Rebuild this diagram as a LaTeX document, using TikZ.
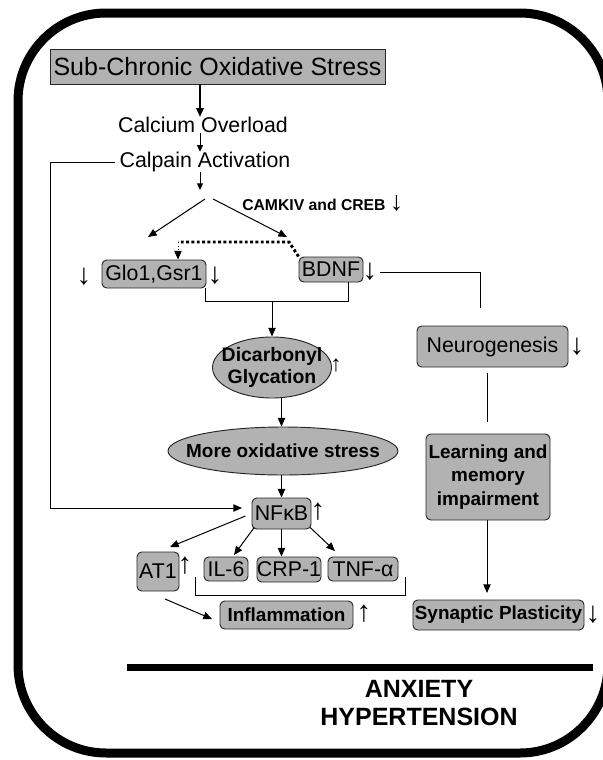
\documentclass[tikz,border=0pt]{standalone}
\usepackage{fontspec}
\setmainfont{Liberation Sans}
\usetikzlibrary{arrows.meta,shapes.geometric}
\begin{document}
\begin{tikzpicture}[x=0.75pt,y=-0.75pt,
 gbox/.style={draw=black!85, fill=black!30, rounded corners=3.5pt, line width=0.7pt, inner sep=0pt, align=center},
 sqbox/.style={draw=black!85, fill=black!30, line width=0.7pt, inner sep=0pt},
 gell/.style={ellipse, draw=black!85, fill=black!30, line width=0.7pt, inner sep=0pt},
 rtxt/.style={font=\fontsize{16}{19}\selectfont, inner sep=0pt},
 btxt/.style={font=\bfseries\fontsize{14.2}{17.6}\selectfont, inner sep=0pt, align=center},
 arr/.style={-{Triangle[length=6.5pt,width=5.5pt]}, line width=0.75pt},
 sarr/.style={-{Triangle[length=5pt,width=4.5pt]}, line width=0.75pt},
 updn/.style={font=\fontsize{22}{22}\selectfont, inner sep=0pt},
 link/.style={line width=0.75pt},
 dotl/.style={line width=2.2pt, dash pattern=on 2.2pt off 1.8pt}
]
\useasboundingbox (0,0) rectangle (603,760);
% outer frame
\draw[line width=6.75pt, rounded corners=66pt] (18,13) rectangle (608,753);

% top chain
\node[sqbox, minimum width=251.25pt, minimum height=26.25pt, font=\fontsize{18.75}{22}\selectfont] (title) at (217.5,66.5) {Sub-Chronic Oxidative Stress};
\node[rtxt] (calcium) at (203,125) {Calcium Overload};
\node[rtxt] (calpain) at (205,162) {Calpain Activation};
\coordinate (ax) at (200,0);
\coordinate (sp) at (200,190);
\coordinate (spL) at (205,199);
\coordinate (spR) at (213,199);
\coordinate (tipL) at (148,237);
\coordinate (tipR) at (287,237);
\node[anchor=west, font=\bfseries\fontsize{11.8}{14}\selectfont, inner sep=0pt] (camk) at (242,203) {CAMKIV and CREB {\mdseries\fontsize{20}{20}\selectfont ↓}};

% Glo1 / BDNF
\node[gbox, rtxt, minimum width=78pt, minimum height=21pt] (glo) at (154,274) {Glo1,Gsr1};
\node[gbox, rtxt, minimum width=48pt, minimum height=18.75pt] (bdnf) at (331,269.5) {BDNF};
\node[updn] (gloL) at (84,277) {↓};
\node[updn] (gloR) at (215,276) {↓};
\node[updn] (bdnfdn) at (370,272) {↓};
\coordinate (d1) at (289,242);
\coordinate (d2) at (178,242);
\coordinate (bL) at (205,301);
\coordinate (bR) at (348,301);
\coordinate (bM) at (272,301);

% ellipses
\node[gell, minimum width=89.25pt, minimum height=45.75pt] (dic) at (272,367.5) {};
\node[btxt, font=\bfseries\fontsize{14.6}{16}\selectfont] (dictxt) at (dic.center) {Dicarbonyl\\Glycation};
\node[updn, font=\fontsize{17}{17}\selectfont] (dicup) at (336,365) {↑};
\node[gell, minimum width=172.5pt, minimum height=36pt] (more) at (283,451) {};
\node[btxt] (moretxt) at (more.center) {More oxidative stress};
\coordinate (mx) at (281.5,0);

% NFkB and products
\node[gbox, rtxt, minimum width=44.25pt, minimum height=23.25pt] (nfkb) at (281.5,513.5) {NFκB};
\node[updn] (nfup) at (318,512) {↑};
\node[gbox, rtxt, minimum width=31.5pt, minimum height=29.25pt] (at1) at (158,571.5) {AT1};
\node[updn] (at1up) at (185,566) {↑};
\node[gbox, rtxt, minimum width=33pt, minimum height=18pt] (il6) at (226,569) {IL-6};
\node[gbox, rtxt, minimum width=48pt, minimum height=18.75pt] (crp) at (289,569.5) {CRP-1};
\node[gbox, rtxt, minimum width=52.5pt, minimum height=18pt] (tnf) at (363,569) {TNF-α};
\node[gbox, btxt, minimum width=99.75pt, minimum height=21pt] (inflam) at (286.5,615) {Inflammation};
\node[updn] (infup) at (364,614) {↑};
\coordinate (fbc) at (50,508);
\coordinate (fbt) at (242,508);
\coordinate (a1t) at (170,547);
\coordinate (il6t) at (234,555);
\coordinate (tnft) at (335,551);
\coordinate (c1) at (195,577);
\coordinate (c2) at (195,595);
\coordinate (c3) at (405,595);
\coordinate (c4) at (405,577);
\coordinate (ai1) at (165,599);
\coordinate (ai2) at (212,619);

% right column
\node[gbox, rtxt, minimum width=113.25pt, minimum height=30.75pt] (neuro) at (492.5,346.5) {Neurogenesis};
\node[updn] (neudn) at (577,347) {↓};
\node[gbox, btxt, minimum width=93pt, minimum height=64.5pt] (learn) at (488,477) {Learning and\\memory\\impairment};
\node[gbox, btxt, minimum width=128.25pt, minimum height=22.5pt] (synap) at (498.5,615) {Synaptic Plasticity};
\node[updn] (syndn) at (593,615) {↓};
\coordinate (bd2) at (480,308);
\coordinate (n1) at (487,373);
\coordinate (n2) at (487,422);
\coordinate (lt) at (487,593);

% bottom
\coordinate (h1) at (127,667);
\coordinate (h2) at (593,667);
\node[font=\bfseries\fontsize{18.75}{21}\selectfont, align=center, inner sep=0pt] (anx) at (419,703) {ANXIETY\\HYPERTENSION};

% connectors
\draw[arr, line width=1.2pt] (title.south -| ax) -- (calcium.north -| ax);
\draw[sarr] (calcium.south -| ax) -- (calpain.north -| ax);
\draw[sarr] (calpain.south -| ax) -- (sp);
\draw[arr] (spL) -- (tipL);
\draw[arr] (spR) -- (tipR);
\draw[dotl] (bdnf.north west) -- (d1) -- (d2);
\draw[arr, dotted] (d2) -- (d2 |- glo.north);
\draw[link] (bL |- glo.south) -- (bL) -- (bR) -- (bR |- bdnf.south);
\draw[arr] (bM) -- (dic.north);
\draw[arr] (dic.south -| mx) -- (more.north -| mx);
\draw[arr] (more.south -| mx) -- (nfkb.north);
\draw[arr] ([xshift=-3pt]calpain.west) -| (fbc) -- (fbt);
\draw[arr, shorten <=5pt] (nfkb.west) -- (a1t);
\draw[arr] ([xshift=2pt,yshift=1.5pt]nfkb.south west) -- (il6t);
\draw[arr] (nfkb.south) -- (nfkb.south |- crp.north);
\draw[arr] ([xshift=-1pt,yshift=1.5pt]nfkb.south east) -- (tnft);
\draw[link] (c1) -- (c2) -- (c3) -- (c4);
\draw[arr] (ai1) -- (ai2);
\draw[link] ([xshift=2pt]bdnfdn.east) -| (bd2);
\draw[link] (n1) -- (n2);
\draw[arr] (learn.south -| lt) -- (lt);
\draw[line width=5.25pt] (h1) -- (h2);
\end{tikzpicture}
\end{document}
